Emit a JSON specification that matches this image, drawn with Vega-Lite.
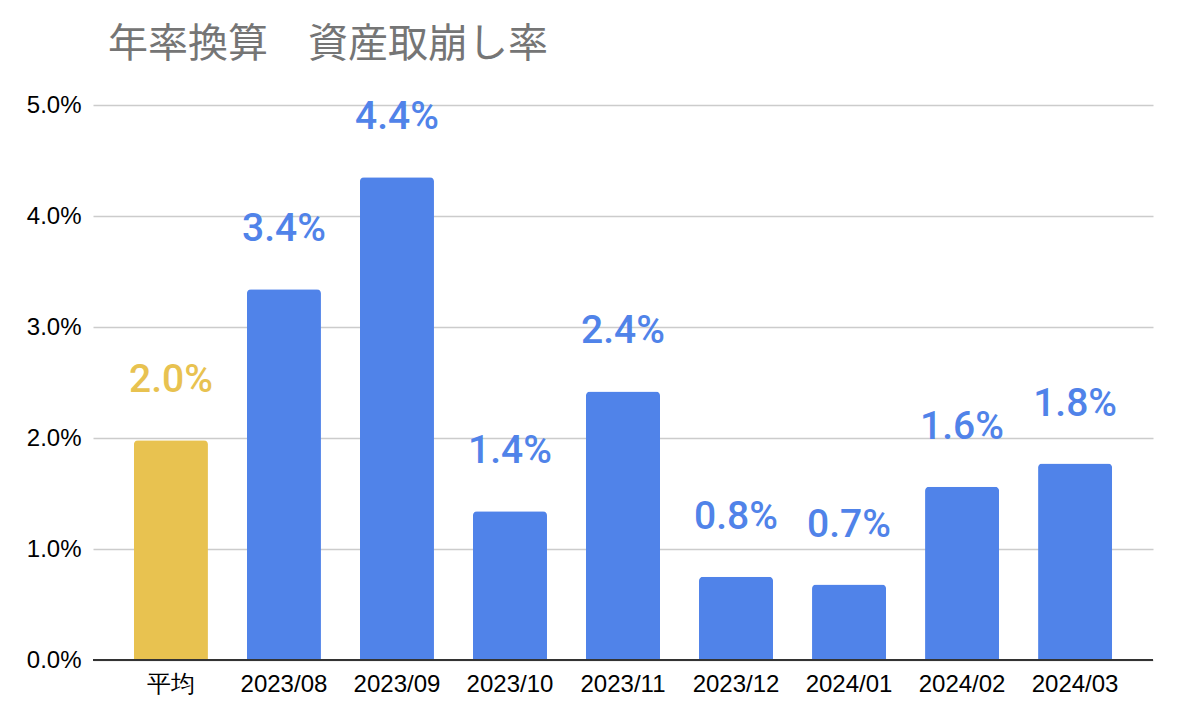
{
  "$schema": "https://vega.github.io/schema/vega-lite/v6.json",
  "width": 1060,
  "height": 555,
  "autosize": {"type": "none"},
  "padding": {"left": 93, "top": 105, "right": 27, "bottom": 62},
  "background": "white",
  "view": {"stroke": null},
  "title": {
    "text": "年率換算　資産取崩し率",
    "anchor": "start",
    "frame": "group",
    "dx": 15,
    "offset": 28,
    "font": "Noto Sans CJK JP",
    "fontSize": 40,
    "fontWeight": "normal",
    "color": "#757575"
  },
  "data": {
    "values": [
      {"month": "平均", "rate": 0.0198, "label": "2.0%", "kind": "avg"},
      {"month": "2023/08", "rate": 0.0334, "label": "3.4%", "kind": "month"},
      {"month": "2023/09", "rate": 0.0435, "label": "4.4%", "kind": "month"},
      {"month": "2023/10", "rate": 0.0134, "label": "1.4%", "kind": "month"},
      {"month": "2023/11", "rate": 0.0242, "label": "2.4%", "kind": "month"},
      {"month": "2023/12", "rate": 0.0075, "label": "0.8%", "kind": "month"},
      {"month": "2024/01", "rate": 0.0068, "label": "0.7%", "kind": "month"},
      {"month": "2024/02", "rate": 0.0156, "label": "1.6%", "kind": "month"},
      {"month": "2024/03", "rate": 0.0177, "label": "1.8%", "kind": "month"}
    ]
  },
  "encoding": {
    "x": {
      "field": "month",
      "type": "nominal",
      "sort": null,
      "scale": {"paddingInner": 0.345, "paddingOuter": 0.362},
      "axis": {
        "title": null,
        "labelAngle": 0,
        "labelFont": "Liberation Sans",
        "labelFontSize": 24,
        "labelColor": "#000000",
        "labelPadding": 12,
        "ticks": false,
        "domain": false,
        "grid": false
      }
    },
    "y": {
      "field": "rate",
      "type": "quantitative",
      "scale": {"domain": [0, 0.05], "nice": false},
      "axis": {
        "title": null,
        "values": [0, 0.01, 0.02, 0.03, 0.04, 0.05],
        "format": ".1%",
        "labelFont": "Liberation Sans",
        "labelFontSize": 24,
        "labelColor": "#000000",
        "labelPadding": 12,
        "ticks": false,
        "domain": false,
        "grid": true,
        "gridColor": "#cccccc",
        "gridWidth": 1.3
      }
    },
    "color": {
      "field": "kind",
      "type": "nominal",
      "scale": {"domain": ["avg", "month"], "range": ["#E8C250", "#5083E9"]},
      "legend": null
    }
  },
  "layer": [
    {
      "mark": {"type": "bar", "cornerRadiusTopLeft": 4, "cornerRadiusTopRight": 4}
    },
    {
      "mark": {"type": "rule", "color": "#333333", "strokeWidth": 2},
      "encoding": {"y": {"datum": 0}, "x": {"value": 0}, "x2": {"value": 1060}, "color": {"value": "#333333"}}
    },
    {
      "mark": {
        "type": "text",
        "baseline": "alphabetic",
        "dy": -48,
        "font": "Roboto",
        "fontSize": 39,
        "fontWeight": 500
      },
      "encoding": {
        "text": {"field": "label"},
        "color": {
          "field": "kind",
          "type": "nominal",
          "scale": {"domain": ["avg", "month"], "range": ["#E8C250", "#5083E9"]},
          "legend": null
        }
      }
    }
  ]
}
